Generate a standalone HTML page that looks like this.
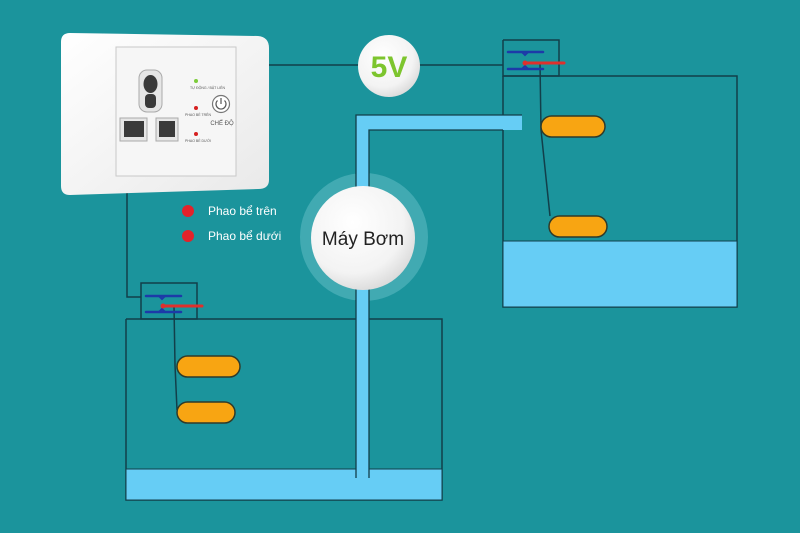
<!DOCTYPE html>
<html><head><meta charset="utf-8"><style>
html,body{margin:0;padding:0;background:#1b949c;}
svg{display:block}
text{font-family:"Liberation Sans","DejaVu Sans",sans-serif}
</style></head><body>
<svg width="800" height="533" viewBox="0 0 800 533" xmlns="http://www.w3.org/2000/svg">
<defs>
<radialGradient id="wg" cx="0.4" cy="0.35" r="0.7"><stop offset="0" stop-color="#ffffff"/><stop offset="0.7" stop-color="#f3f3f3"/><stop offset="1" stop-color="#d8d8d8"/></radialGradient>
<linearGradient id="pg" x1="0" y1="0" x2="1" y2="1"><stop offset="0" stop-color="#ffffff"/><stop offset="1" stop-color="#e9e9e9"/></linearGradient>
</defs>
<rect width="800" height="533" fill="#1b949c"/>

<!-- wires -->
<g stroke="#123f4a" stroke-width="1.5" fill="none">
<line x1="268" y1="65" x2="503" y2="65"/>
<polyline points="127,192 127,297 141,297"/>
<!-- right tank -->
<polyline points="503,40 559,40 559,76 503,76 503,40"/>
<polyline points="503,76 737,76 737,307 503,307 503,76"/>
<!-- left switch box & tank -->
<rect x="141" y="283" width="56" height="36"/>
<polyline points="126,319 442,319 442,500 126,500 126,319"/>
<!-- float wires -->
<polyline points="540,63 541,130 550,216"/>
<polyline points="174,306 175,365 177,410"/>
</g>

<!-- water -->
<rect x="503" y="241" width="234" height="66" fill="#66cdf5" stroke="#123f4a" stroke-width="1"/>
<rect x="126" y="469" width="316" height="31" fill="#66cdf5" stroke="#123f4a" stroke-width="1"/>

<!-- pipe -->
<path d="M356,115 L522,115 L522,130 L369,130 L369,478 L356,478 Z" fill="#66cdf5"/>
<g stroke="#123f4a" stroke-width="1.3" fill="none">
<polyline points="356,478 356,115 522,115"/>
<polyline points="369,478 369,130 503,130"/>
</g>

<!-- switches -->
<g stroke-linecap="round">
<line x1="508" y1="52" x2="543" y2="52" stroke="#1d3aa8" stroke-width="2.5"/>
<line x1="508" y1="69" x2="543" y2="69" stroke="#1d3aa8" stroke-width="2.5"/>
<path d="M522,52 L525,55 L528,52 M522,69 L525,66 L528,69" stroke="#1d3aa8" stroke-width="2" fill="none"/>
<line x1="525" y1="63" x2="564" y2="63" stroke="#e0302c" stroke-width="3"/>
<circle cx="525" cy="63" r="2.5" fill="#e0302c"/>
<line x1="146" y1="296" x2="181" y2="296" stroke="#1d3aa8" stroke-width="2.5"/>
<line x1="146" y1="312" x2="181" y2="312" stroke="#1d3aa8" stroke-width="2.5"/>
<path d="M159,296 L162,299 L165,296 M159,312 L162,309 L165,312" stroke="#1d3aa8" stroke-width="2" fill="none"/>
<line x1="163" y1="306" x2="202" y2="306" stroke="#e0302c" stroke-width="3"/>
<circle cx="163" cy="306" r="2.5" fill="#e0302c"/>
</g>

<!-- floats -->
<g fill="#f8a512" stroke="#2f3b2a" stroke-width="1.5">
<rect x="541" y="116" width="64" height="21" rx="10.5"/>
<rect x="549" y="216" width="58" height="21" rx="10.5"/>
<rect x="177" y="356" width="63" height="21" rx="10.5"/>
<rect x="177" y="402" width="58" height="21" rx="10.5"/>
</g>

<!-- 5V -->
<circle cx="389" cy="66" r="31" fill="url(#wg)"/>
<text x="389" y="77" text-anchor="middle" font-size="30" font-weight="bold" fill="#7dc52e">5V</text>

<!-- pump -->
<circle cx="364" cy="237" r="64" fill="#4fb1b9" opacity="0.75"/>
<rect x="356" y="173" width="13" height="128" fill="#66cdf5"/>
<line x1="356" y1="173" x2="356" y2="301" stroke="#123f4a" stroke-width="1.3"/>
<line x1="369" y1="173" x2="369" y2="301" stroke="#123f4a" stroke-width="1.3"/>
<circle cx="363" cy="238" r="52" fill="url(#wg)"/>
<text x="363" y="245" text-anchor="middle" font-size="19" fill="#222">Máy Bơm</text>

<!-- legend -->
<circle cx="188" cy="211" r="6" fill="#e3222a"/>
<circle cx="188" cy="236" r="6" fill="#e3222a"/>
<text x="208" y="215" font-size="12" fill="#ffffff">Phao bể trên</text>
<text x="208" y="240" font-size="12" fill="#ffffff">Phao bể dưới</text>

<!-- socket plate -->
<path d="M70,33 L258,36 Q269,37 269,48 L269,180 Q269,189 258,189 L70,195 Q61,195 61,186 L61,42 Q61,33 70,33 Z" fill="url(#pg)"/>
<rect x="116" y="47" width="120" height="129" fill="#f6f6f6" stroke="#c8c8c8" stroke-width="1"/>
<!-- round outlet -->
<rect x="139" y="70" width="23" height="42" rx="8" fill="#e6e6e6" stroke="#aaa"/>
<ellipse cx="150.5" cy="84" rx="7" ry="9" fill="#3a3a3a"/>
<rect x="145" y="94" width="11" height="14" rx="4" fill="#3a3a3a"/>
<rect x="120" y="118" width="27" height="23" fill="#e6e6e6" stroke="#aaa"/>
<rect x="124" y="121" width="20" height="16" fill="#3a3a3a"/>
<rect x="156" y="118" width="22" height="23" fill="#e6e6e6" stroke="#aaa"/>
<rect x="159" y="121" width="16" height="16" fill="#3a3a3a"/>
<circle cx="196" cy="81" r="2" fill="#7ccc3a"/>
<circle cx="196" cy="108" r="2" fill="#d62020"/>
<circle cx="196" cy="134" r="2" fill="#d62020"/>
<text x="190" y="89" font-size="3.5" fill="#555">TỰ ĐỘNG / BẬT LIÊN</text>
<text x="185" y="116" font-size="3.5" fill="#555">PHAO BỂ TRÊN</text>
<text x="185" y="142" font-size="3.5" fill="#555">PHAO BỂ DƯỚI</text>
<circle cx="221" cy="104" r="8.5" fill="#fff" stroke="#777" stroke-width="1.2"/>
<path d="M217.5,100.5 A5,5 0 1 0 224.5,100.5" fill="none" stroke="#555" stroke-width="1.2"/>
<line x1="221" y1="98" x2="221" y2="104" stroke="#555" stroke-width="1.2"/>
<text x="222" y="125" text-anchor="middle" font-size="6" fill="#555">CHẾ ĐỘ</text>
</svg>
</body></html>
